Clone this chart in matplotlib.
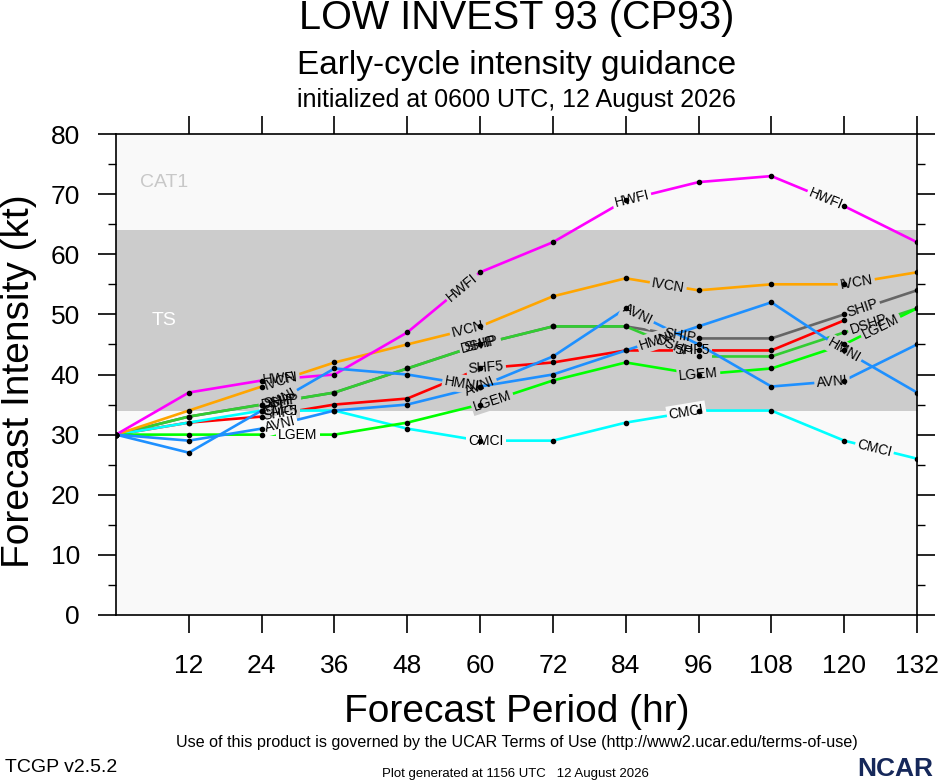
import numpy as np
import matplotlib
matplotlib.use("Agg")
import matplotlib.pyplot as plt
from matplotlib.ticker import MultipleLocator

plt.rcParams['font.family'] = ['Liberation Sans', 'DejaVu Sans']

# forecast hours and model intensities (kt)
HOURS = [0, 12, 24, 36, 48, 60, 72, 84, 96, 108, 120, 132]
HWFI = [30, 37, 39, 40, 47, 57, 62, 69, 72, 73, 68, 62]
IVCN = [30, 34, 38, 42, 45, 48, 53, 56, 54, 55, 55, 57]
SHIP = [30, 33, 35, 37, 41, 45, 48, 48, 46, 46, 50, 54]
DSHP = [30, 33, 35, 37, 41, 45, 48, 48, 43, 43, 47, 51]
LGEM = [30, 30, 30, 30, 32, 35, 39, 42, 40, 41, 45, 51]
SHF5 = [30, 32, 33, 35, 36, 41, 42, 44, 44, 44, 49]
CMCI = [30, 32, 34, 34, 31, 29, 29, 32, 34, 34, 29, 26]
AVNI = [30, 29, 31, 34, 35, 38, 43, 51, 45, 38, 39, 45]
HMNI = [30, 27, 34, 41, 40, 38, 40, 44, 48, 52, 44, 37]

# drawing order: first is underneath
models = [
    ("SHIP", SHIP, "#666666"),
    ("DSHP", DSHP, "#32CD32"),
    ("SHF5", SHF5, "#FF0000"),
    ("CMCI", CMCI, "#00FFFF"),
    ("LGEM", LGEM, "#00FF00"),
    ("IVCN", IVCN, "#FFA500"),
    ("HWFI", HWFI, "#FF00FF"),
    ("AVNI", AVNI, "#1E90FF"),
    ("HMNI", HMNI, "#1E90FF"),
]

# where along each line the name gets written (hours)
label_hours = {
    "HWFI": [27, 57, 85, 117],
    "IVCN": [27, 58, 91, 122],
    "CMCI": [27, 61, 94, 125],
    "LGEM": [30, 62, 96, 126],
    "DSHP": [27, 60, 92, 124],
    "SHIP": [27, 60, 93, 123],
    "SHF5": [27, 61, 95],
    "AVNI": [27, 60, 86, 118],
    "HMNI": [27, 57, 89, 120],
}

TS_LOW, TS_HIGH = 34, 64
BG = "#f9f9f9"
BAND = "#cccccc"

fig = plt.figure(figsize=(9.4, 7.8), dpi=100)
ax = fig.add_axes([116/940, 1-615/780, (917-116)/940, (615-134)/780])
ax.set_facecolor(BG)
ax.set_xlim(0, 132)
ax.set_ylim(0, 80)

ax.axhspan(TS_LOW, TS_HIGH, color=BAND, zorder=0.5, lw=0)
ax.text(8, (TS_LOW+TS_HIGH)/2, "TS", color="white", fontsize=14,
        ha="center", va="center", zorder=0.6)
ax.text(8, (TS_HIGH+80)/2, "CAT1", color="#c8c8c8", fontsize=14,
        ha="center", va="center", zorder=0.6)

for i, (name, vals, col) in enumerate(models):
    z = 2 + i*0.1
    hrs = HOURS[:len(vals)]
    ax.plot(hrs, vals, color=col, lw=1.9, zorder=z, solid_capstyle="butt")
    for h in label_hours[name]:
        if h > hrs[-1]:
            continue
        y = np.interp(h, hrs, vals)
        k = min(int(h // 12), len(vals) - 2)
        p0 = ax.transData.transform((hrs[k], vals[k]))
        p1 = ax.transData.transform((hrs[k+1], vals[k+1]))
        ang = np.degrees(np.arctan2(p1[1]-p0[1], p1[0]-p0[0]))
        bg = BAND if TS_LOW <= y <= TS_HIGH else BG
        # gap in own line
        ax.text(h, y, name, fontsize=10, color="none", rotation=ang,
                rotation_mode="anchor", ha="center", va="center",
                bbox=dict(fc=bg, ec="none", pad=1.5), zorder=z+0.05)
        ax.text(h, y, name, fontsize=10, color="black", rotation=ang,
                rotation_mode="anchor", ha="center", va="center", zorder=50)

for i, (name, vals, col) in enumerate(models):
    hrs = HOURS[:len(vals)]
    ax.plot(hrs, vals, ls="none", marker="o", ms=3, color="black", zorder=40)

ax.set_xticks(HOURS[1:])
ax.set_yticks(range(0, 81, 10))
ax.yaxis.set_minor_locator(MultipleLocator(5))
ax.tick_params(which="major", direction="out", length=13, width=1.2,
               top=True, right=True, labelsize=19)
ax.tick_params(axis="x", pad=15)
ax.tick_params(axis="y", pad=13)
ax.tick_params(which="minor", axis="y", direction="out", length=6, width=1.0,
               left=True, right=True)
for s in ax.spines.values():
    s.set_linewidth(1.2)

cx = (116 + 917) / 2 / 940
fig.text(cx, 1-29/780, "LOW INVEST 93 (CP93)", fontsize=28.5, ha="center", va="baseline")
fig.text(cx, 1-74/780, "Early-cycle intensity guidance", fontsize=24, ha="center", va="baseline")
fig.text(cx, 1-107/780, "initialized at 0600 UTC, 12 August 2026", fontsize=18,
         ha="center", va="baseline")

fig.text(cx, 1-722/780, "Forecast Period (hr)", fontsize=28, ha="center", va="baseline")
fig.text(19/940, 1-381/780, "Forecast Intensity (kt)", fontsize=28, rotation=90,
         ha="center", va="center")

fig.text(cx, 1-747/780,
         "Use of this product is governed by the UCAR Terms of Use (http://www2.ucar.edu/terms-of-use)",
         fontsize=11.6, ha="center", va="baseline")
fig.text(5/940, 1-772/780, "TCGP v2.5.2", fontsize=14, ha="left", va="baseline")
fig.text(515/940, 1-777/780, "Plot generated at 1156 UTC   12 August 2026", fontsize=9.5,
         ha="center", va="baseline")
fig.text(933/940, 1-776/780, "NCAR", fontsize=19, fontweight="bold", color="#16285a",
         ha="right", va="baseline")

fig.savefig("out.png", dpi=100)
